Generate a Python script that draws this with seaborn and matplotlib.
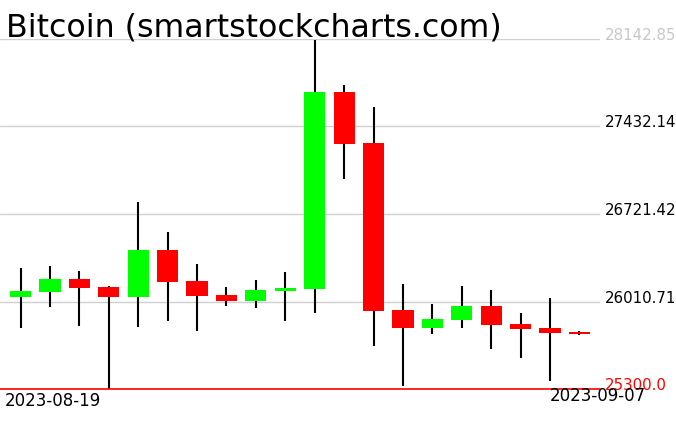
import pandas as pd
import matplotlib
matplotlib.use("Agg")
import matplotlib.pyplot as plt
import matplotlib.transforms as mtransforms
import seaborn as sns

# daily candles
dates = pd.date_range("2023-08-19", "2023-09-07", freq="D").strftime("%Y-%m-%d").tolist()
opens = [26050, 26090, 26193, 26128, 26050, 26429, 26177, 26063, 26015, 26096,
         26115, 27712, 27298, 25942, 25798, 25863, 25974, 25828, 25795, 25765]
highs = [26283, 26299, 26258, 26134, 26816, 26575, 26315, 26128, 26185, 26250,
         28135, 27769, 27590, 26153, 25993, 26137, 26104, 25917, 26039, 25771]
lows = [25798, 25968, 25809, 25300, 25806, 25852, 25771, 25974, 25958, 25852,
        25920, 27008, 25652, 25327, 25749, 25798, 25627, 25554, 25367, 25741]
closes = [26096, 26193, 26123, 26050, 26429, 26171, 26055, 26015, 26104, 26120,
          27712, 27292, 25936, 25798, 25869, 25974, 25822, 25787, 25757, 25749]

y_ticks = [25300.0, 26010.71, 26721.42, 27432.14, 28142.85]
y_labels = ["25300.0", "26010.71", "26721.42", "27432.14", "28142.85"]

df = pd.DataFrame({"date": dates, "open": opens, "high": highs,
                   "low": lows, "close": closes})
df["bottom"] = df[["open", "close"]].min(axis=1)
df["body"] = (df["close"] - df["open"]).abs()
df["up"] = df["close"] >= df["open"]

sns.set_style("white")
plt.rcParams["font.family"] = ["DejaVu Sans"]
plt.rcParams["text.color"] = "black"

fig = plt.figure(figsize=(6.76, 4.31), dpi=100)
ax = fig.add_axes([0, 41 / 431, 600 / 676, 350 / 431])

# wicks
ax.vlines(range(len(df)), df["low"], df["high"], color="black", lw=1.5, zorder=2)

# bodies
sns.barplot(data=df, x="date", y="body", bottom=df["bottom"], width=0.72,
            color="#00ff00", saturation=1, errorbar=None, ax=ax, zorder=3)
for patch, up in zip(ax.patches, df["up"]):
    patch.set_facecolor("#00ff00" if up else "#ff0000")
    patch.set_edgecolor("none")
    patch.set_zorder(3)

# horizontal grid
for v in y_ticks[1:]:
    ax.axhline(v, color="#d0d0d0", lw=1, zorder=1)
ax.axhline(y_ticks[0], color="#ff0000", lw=1.2, zorder=4, clip_on=False)

ax.set_xlim(-0.7, 19.7)
ax.set_ylim(y_ticks[0], y_ticks[-1])
ax.set_xticks([])
ax.set_yticks([])
ax.set_xlabel("")
ax.set_ylabel("")
sns.despine(ax=ax, left=True, bottom=True)

# price labels on the right
trans = mtransforms.blended_transform_factory(ax.transAxes, ax.transData)
label_colors = ["#ff0000", "black", "black", "black", "#c8c8c8"]
for v, lab, c in zip(y_ticks, y_labels, label_colors):
    ax.text(1.008, v, lab, transform=trans, ha="left", va="baseline",
            fontsize=10.8, color=c, clip_on=False)

# date labels
fig.text(5 / 676, 1 - 406 / 431, dates[0], fontsize=12, ha="left",
         va="baseline", color="black")
fig.text(646 / 676, 1 - 401.5 / 431, dates[-1], fontsize=12, ha="right",
         va="baseline", color="black")

fig.text(6 / 676, 1 - 36.7 / 431, "Bitcoin (smartstockcharts.com)",
         fontsize=22.8, ha="left", va="baseline", color="black")

fig.savefig("out.png", dpi=100)
